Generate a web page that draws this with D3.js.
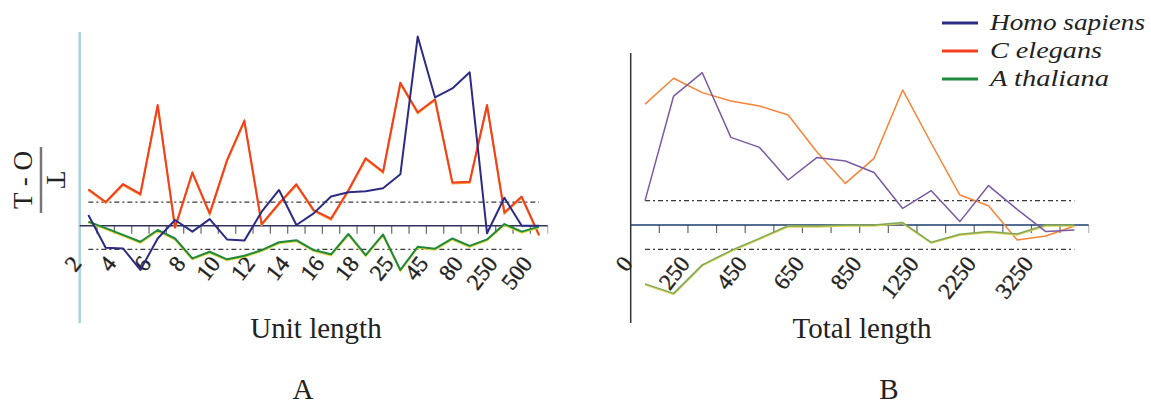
<!DOCTYPE html>
<html>
<head>
<meta charset="utf-8">
<script src="https://cdn.jsdelivr.net/npm/d3@7"></script>
<style>
  body { margin: 0; background: #fff; }
  svg { display: block; }
  text { font-family: "Liberation Serif", "DejaVu Serif", serif; fill: #222; }
</style>
</head>
<body>
<div id="chart"></div>
<script>
// Tick labels sit on the bin edges; blanks are unlabelled edges
const unitTicks = ["2", "", "4", "", "6", "", "8", "", "10", "", "12", "", "14", "",
  "16", "", "18", "", "25", "", "45", "", "80", "", "250", "", "500", "", ""];
const totalTicks = ["0", "", "250", "", "450", "", "650", "", "850", "", "1250", "",
  "2250", "", "3250", "", ""];

const species = ["Homo sapiens", "C elegans", "A thaliana"];

// (T - O) / T per unit-length bin
const unitHomo = [0.045, -0.093, -0.096, -0.187, -0.054, 0.024, -0.025, 0.028, -0.058,
  -0.063, 0.059, 0.151, 0.003, 0.052, 0.123, 0.141, 0.146, 0.158, 0.217, 0.799, 0.542,
  0.580, 0.648, -0.032, 0.118, 0.0, 0.0];
const unitElegans = [0.154, 0.10, 0.176, 0.134, 0.51, -0.007, 0.225, 0.052, 0.277,
  0.444, 0.007, 0.094, 0.175, 0.066, 0.03, 0.15, 0.285, 0.228, 0.604, 0.479, 0.534,
  0.183, 0.186, 0.51, 0.056, 0.123, -0.039];
const unitThaliana = [0.017, -0.01, -0.039, -0.068, -0.018, -0.054, -0.138, -0.11,
  -0.142, -0.127, -0.103, -0.07, -0.061, -0.103, -0.121, -0.035, -0.124, -0.037,
  -0.187, -0.089, -0.097, -0.054, -0.085, -0.058, 0.007, -0.025, -0.004];

// (T - O) / T per total-length bin
const totalHomo = [0.10, 0.53, 0.626, 0.36, 0.319, 0.185, 0.277, 0.263, 0.216, 0.068,
  0.141, 0.014, 0.162, 0.064, -0.027, -0.021];
const totalElegans = [0.497, 0.603, 0.544, 0.51, 0.489, 0.452, 0.301, 0.171, 0.274,
  0.555, 0.336, 0.123, 0.079, -0.062, -0.045, -0.004];
const totalThaliana = [-0.242, -0.281, -0.164, -0.105, -0.055, -0.003, -0.004, 0.0,
  0.0, 0.01, -0.071, -0.038, -0.027, -0.037, 0.0, 0.0];

const threshold = 0.1;

const W = 1151, H = 406;
const svg = d3.select("#chart").append("svg").attr("width", W).attr("height", H);

function drawPanel(opt) {
  const n = opt.series[0].values.length;
  const x = d3.scaleLinear().domain([0, n]).range(opt.xRange);
  const y = d3.scaleLinear().domain([-0.5, 0.8]).range(opt.yRange);
  const g = svg.append("g");

  // y axis line
  g.append("line")
    .attr("x1", x(0)).attr("x2", x(0))
    .attr("y1", opt.axisTop).attr("y2", 323)
    .attr("stroke", opt.axisColor).attr("stroke-width", opt.axisWidth);

  // dash-dot threshold lines
  const dash = [[threshold, opt.upperEnd], [-threshold, opt.lowerEnd]];
  g.selectAll("line.thr").data(dash).join("line")
    .attr("class", "thr")
    .attr("x1", x(0.5)).attr("x2", d => x(d[1]))
    .attr("y1", d => y(d[0])).attr("y2", d => y(d[0]))
    .attr("stroke", "#3a3a3a").attr("stroke-width", 1.2)
    .attr("stroke-dasharray", "5,3,2,3");

  // bin edge ticks under the zero line
  const edges = d3.range(1, n + 1);
  g.selectAll("line.tick").data(edges).join("line")
    .attr("class", "tick")
    .attr("x1", d => x(d)).attr("x2", d => x(d))
    .attr("y1", y(0)).attr("y2", y(0) + 8)
    .attr("stroke", d => d === n ? "#bbb" : "#666").attr("stroke-width", 1.2);

  g.append("line")
    .attr("x1", x(0)).attr("x2", x(n))
    .attr("y1", y(0)).attr("y2", y(0))
    .attr("stroke", opt.zeroColor).attr("stroke-width", 1.6);

  // tick labels at the edges
  g.selectAll("text.lab").data(opt.ticks.map((t, i) => ({ t, i })).filter(d => d.t))
    .join("text")
    .attr("class", "lab")
    .attr("text-anchor", "end")
    .attr("font-size", 23)
    .attr("stroke", "#222").attr("stroke-width", 0.4)
    .attr("transform", d => `translate(${x(d.i) + 3},264) rotate(-52)`)
    .text(d => d.t);

  const line = d3.line()
    .x((d, i) => x(i + 0.5))
    .y(d => y(d));

  for (const s of opt.series) {
    if (s.shadow) {
      g.append("path").datum(s.values)
        .attr("d", line).attr("fill", "none")
        .attr("stroke", s.shadow).attr("stroke-width", opt.lineWidth)
        .attr("transform", "translate(0,1)");
    }
    g.append("path").datum(s.values)
      .attr("d", line).attr("fill", "none")
      .attr("stroke", s.color).attr("stroke-width", opt.lineWidth)
      .attr("stroke-linejoin", "round");
  }

  g.append("text")
    .attr("x", opt.titleX).attr("y", 338)
    .attr("text-anchor", "middle").attr("font-size", 29)
    .text(opt.title);

  g.append("text")
    .attr("x", opt.letterX).attr("y", 399)
    .attr("text-anchor", "middle").attr("font-size", 29)
    .text(opt.letter);
}

drawPanel({
  xRange: [79.7, 547.7],
  yRange: [225.7 + 0.5 * 236.7, 225.7 - 0.8 * 236.7],
  axisTop: 32, axisColor: "#a9d2de", axisWidth: 2.5,
  zeroColor: "#33335a",
  upperEnd: 26.5, lowerEnd: 25.5,
  ticks: unitTicks,
  lineWidth: 2,
  series: [
    { values: unitElegans, color: "#f2401e", shadow: "#f7a040" },
    { values: unitThaliana, color: "#1f8a3e", shadow: "#e2d43c" },
    { values: unitHomo, color: "#2c2c84" }
  ],
  title: "Unit length", titleX: 316,
  letter: "A", letterX: 303
});

drawPanel({
  xRange: [630.7, 1088.7],
  yRange: [225 + 0.5 * 243.3, 225 - 0.8 * 243.3],
  axisTop: 53, axisColor: "#333", axisWidth: 1.5,
  zeroColor: "#1c3c6c",
  upperEnd: 15.5, lowerEnd: 15.5,
  ticks: totalTicks,
  lineWidth: 1.5,
  series: [
    { values: totalElegans, color: "#f7843a" },
    { values: totalThaliana, color: "#7fa85a", shadow: "#e0d050" },
    { values: totalHomo, color: "#7a5aa2" }
  ],
  title: "Total length", titleX: 862,
  letter: "B", letterX: 889
});

// y axis label: (T - O) / T turned on its side
const yl = svg.append("g");
yl.append("text")
  .attr("transform", "translate(32,180) rotate(-90)")
  .attr("text-anchor", "middle").attr("font-size", 27)
  .text("T - O");
yl.append("line")
  .attr("x1", 41).attr("x2", 41).attr("y1", 147).attr("y2", 213)
  .attr("stroke", "#777").attr("stroke-width", 2.5);
yl.append("text")
  .attr("transform", "translate(47,180) rotate(90)")
  .attr("text-anchor", "middle").attr("font-size", 27)
  .text("T");

// legend
const legendColors = ["#2c2c84", "#f2401e", "#1f8a3e"];
const legendWidths = [155, 112, 119];
const leg = svg.append("g").selectAll("g").data(species).join("g")
  .attr("transform", (d, i) => `translate(942,${23 + i * 28})`);
leg.append("line")
  .attr("x1", 0).attr("x2", 36)
  .attr("stroke", (d, i) => legendColors[i]).attr("stroke-width", 3);
leg.append("text")
  .attr("x", 48).attr("y", 7)
  .attr("font-size", 23).attr("font-style", "italic")
  .attr("textLength", (d, i) => legendWidths[i])
  .attr("lengthAdjust", "spacingAndGlyphs")
  .text(d => d);
</script>
</body>
</html>
